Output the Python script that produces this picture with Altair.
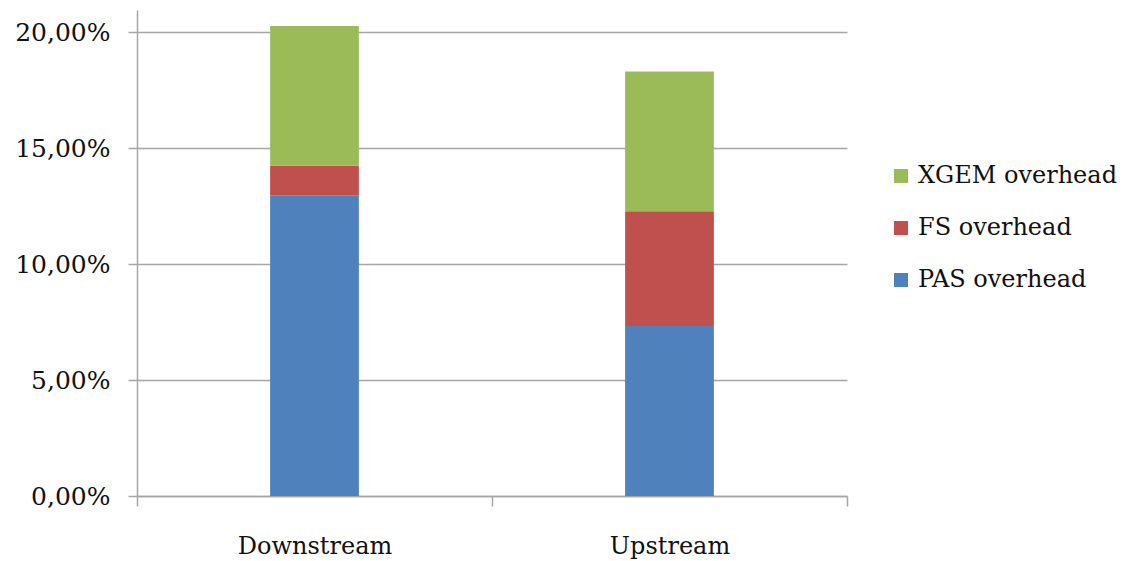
import altair as alt
import pandas as pd

# Overhead shares (percent of line rate) per direction
directions = ["Downstream", "Upstream"]
series = ["PAS overhead", "FS overhead", "XGEM overhead"]
pas_values = [12.96, 7.33]
fs_values = [1.28, 4.95]
xgem_values = [6.02, 6.02]
y_ticks = [0, 5, 10, 15, 20]

colors = {"PAS overhead": "#4F81BD", "FS overhead": "#C0504D", "XGEM overhead": "#9BBB59"}
legend_order = ["XGEM overhead", "FS overhead", "PAS overhead"]

rows = []
for i, d in enumerate(directions):
    for rank, (s, vals) in enumerate(zip(series, [pas_values, fs_values, xgem_values])):
        rows.append({"direction": d, "series": s, "value": vals[i], "rank": rank})
df = pd.DataFrame(rows)

font = "DejaVu Serif"
text_color = "#111111"
grid_color = "#a6a6a6"

chart = (
    alt.Chart(df)
    .mark_bar(width={"band": 0.25})
    .encode(
        x=alt.X(
            "direction:N",
            sort=directions,
            scale=alt.Scale(paddingInner=0, paddingOuter=0),
            axis=alt.Axis(
                title=None,
                labelAngle=0,
                tickBand="extent",
                ticks=True,
                tickSize=10,
                tickColor=grid_color,
                tickWidth=1.5,
                domainColor=grid_color,
                domainWidth=1.5,
                labelFont=font,
                labelFontSize=24,
                labelColor=text_color,
                labelPadding=28,
                grid=False,
            ),
        ),
        y=alt.Y(
            "value:Q",
            stack="zero",
            scale=alt.Scale(domain=[0, 20.95], nice=False),
            axis=alt.Axis(
                title=None,
                values=y_ticks,
                labelExpr="replace(format(datum.value, '.2f'), '.', ',') + '%'",
                labelFont=font,
                labelFontSize=25,
                labelColor=text_color,
                labelPadding=18,
                tickSize=9,
                tickColor=grid_color,
                tickWidth=1.5,
                domainColor=grid_color,
                domainWidth=1.5,
                grid=True,
                gridColor=grid_color,
                gridWidth=1.5,
            ),
        ),
        color=alt.Color(
            "series:N",
            scale=alt.Scale(domain=legend_order, range=[colors[s] for s in legend_order]),
            legend=alt.Legend(
                title=None,
                orient="none",
                legendX=752,
                legendY=154,
                symbolType="square",
                symbolSize=196,
                symbolStrokeWidth=0,
                labelFont=font,
                labelFontSize=24,
                labelColor=text_color,
                labelOffset=5,
                labelLimit=400,
                rowPadding=28,
                padding=0,
            ),
        ),
        order=alt.Order("rank:Q", sort="ascending"),
    )
    .properties(
        width=710,
        height=486,
        background="white",
        autosize=alt.AutoSizeParams(type="none"),
        padding={"left": 137, "top": 10, "right": 290, "bottom": 65},
    )
    .configure_view(strokeWidth=0, stroke="transparent")
)

chart.save("out.html", embed_options={"renderer": "svg", "actions": False})
